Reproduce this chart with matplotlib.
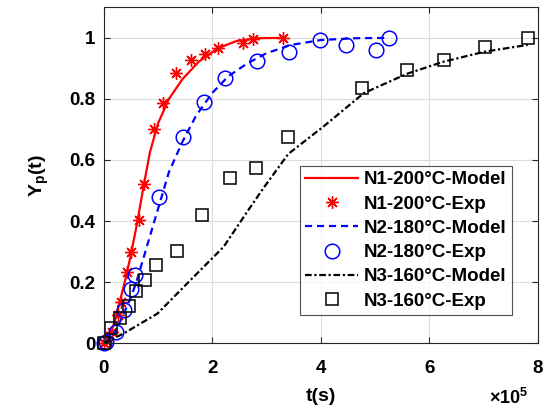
import matplotlib
matplotlib.use("Agg")
import matplotlib.pyplot as plt
from matplotlib.ticker import FuncFormatter

plt.rcParams['font.family'] = ['Liberation Sans', 'DejaVu Sans']
plt.rcParams['font.weight'] = 'bold'
plt.rcParams['mathtext.fontset'] = 'custom'
plt.rcParams['mathtext.rm'] = 'Liberation Sans:bold'
plt.rcParams['mathtext.it'] = 'Liberation Sans:bold'
plt.rcParams['mathtext.bf'] = 'Liberation Sans:bold'

# N1 - 200 C
n1_model_t = [0, 0.1e5, 0.2e5, 0.3e5, 0.4e5, 0.5e5, 0.6e5, 0.74e5, 0.85e5, 1.0e5, 1.2e5,
              1.45e5, 1.75e5, 2.1e5, 2.45e5, 2.85e5, 3.31e5]
n1_model_y = [0, 0.02, 0.07, 0.14, 0.21, 0.29, 0.38, 0.52, 0.625, 0.72, 0.80,
              0.865, 0.922, 0.966, 0.99, 0.999, 1.0]
n1_exp_t = [0, 0.04e5, 0.16e5, 0.27e5, 0.31e5, 0.42e5, 0.50e5, 0.64e5, 0.74e5, 0.92e5,
            1.10e5, 1.34e5, 1.60e5, 1.86e5, 2.11e5, 2.56e5, 2.75e5, 3.31e5]
n1_exp_y = [0, 0.01, 0.037, 0.092, 0.135, 0.232, 0.298, 0.405, 0.522, 0.70,
            0.786, 0.886, 0.928, 0.946, 0.968, 0.983, 0.996, 0.999]

# N2 - 180 C
n2_model_t = [0, 0.1e5, 0.2e5, 0.3e5, 0.4e5, 0.5e5, 0.6e5, 0.8e5, 1.0e5, 1.2e5, 1.45e5,
              1.7e5, 2.0e5, 2.3e5, 2.65e5, 3.0e5, 3.45e5, 4.0e5, 4.65e5, 5.25e5]
n2_model_y = [0, 0.01, 0.035, 0.07, 0.11, 0.15, 0.2, 0.32, 0.44, 0.56, 0.66,
              0.745, 0.82, 0.875, 0.917, 0.95, 0.977, 0.993, 0.999, 1.0]
n2_exp_t = [0, 0.05e5, 0.22e5, 0.38e5, 0.50e5, 0.57e5, 1.02e5, 1.46e5, 1.84e5, 2.24e5,
            2.83e5, 3.41e5, 3.98e5, 4.47e5, 5.02e5, 5.26e5]
n2_exp_y = [0, 0.005, 0.037, 0.108, 0.176, 0.224, 0.478, 0.676, 0.791, 0.87,
            0.925, 0.953, 0.993, 0.977, 0.96, 1.0]

# N3 - 160 C
n3_model_t = [0, 0.37e5, 0.99e5, 1.6e5, 2.21e5, 2.64e5, 2.95e5, 3.4e5, 4.05e5, 4.79e5,
              5.58e5, 6.26e5, 7.02e5, 7.81e5]
n3_model_y = [0, 0.032, 0.097, 0.207, 0.316, 0.43, 0.51, 0.62, 0.71, 0.819,
              0.882, 0.922, 0.955, 0.977]
n3_exp_t = [0, 0.13e5, 0.29e5, 0.47e5, 0.59e5, 0.76e5, 0.96e5, 1.35e5, 1.81e5, 2.32e5,
            2.81e5, 3.39e5, 4.76e5, 5.58e5, 6.26e5, 7.02e5, 7.81e5]
n3_exp_y = [0, 0.048, 0.084, 0.121, 0.17, 0.207, 0.255, 0.303, 0.42, 0.54,
            0.573, 0.674, 0.837, 0.895, 0.926, 0.969, 1.0]

fig = plt.figure(figsize=(5.49, 4.09), dpi=100)
ax = fig.add_axes([0.189, 0.161, 0.791, 0.821])

lw = 1.6
ax.plot(n1_model_t, n1_model_y, '-', color='red', lw=lw, label='N1-200°C-Model')
ax.plot(n1_exp_t, n1_exp_y, marker=(8, 2, 0), color='red', ms=9, mew=1, ls='none',
        label='N1-200°C-Exp', clip_on=False)
ax.plot(n2_model_t, n2_model_y, color='blue', lw=lw, ls=(0, (3.2, 2.2)),
        label='N2-180°C-Model')
ax.plot(n2_exp_t, n2_exp_y, 'o', mfc='none', mec='blue', ms=10.5, mew=1.1, ls='none',
        label='N2-180°C-Exp', clip_on=False)
ax.plot(n3_model_t, n3_model_y, color='black', lw=lw, ls=(0, (3, 1.2, 1, 1.2)),
        label='N3-160°C-Model')
ax.plot(n3_exp_t, n3_exp_y, 's', mfc='none', mec='black', ms=8, mew=1.1, ls='none',
        label='N3-160°C-Exp', clip_on=False)

ax.set_xlim(0, 8e5)
ax.set_ylim(0, 1.1)
ax.set_xticks([0, 2e5, 4e5, 6e5, 8e5])
ax.xaxis.set_major_formatter(FuncFormatter(lambda v, p: '%g' % (v / 1e5)))
ax.set_yticks([0, 0.2, 0.4, 0.6, 0.8, 1])
ax.set_yticklabels(['0', '0.2', '0.4', '0.6', '0.8', '1'])

ax.grid(True, color='#dcdcdc', lw=0.8)
ax.set_axisbelow(True)
ax.tick_params(direction='in', top=True, right=True, labelsize=13.5, length=4, width=0.8,
               color='#262626')
ax.tick_params(axis='x', pad=12)
ax.tick_params(axis='y', pad=6)
for s in ax.spines.values():
    s.set_color('#262626')
    s.set_linewidth(0.8)

ax.set_xlabel('t(s)', fontsize=14, fontweight='bold', labelpad=8)
ax.set_ylabel(r'$\mathrm{Y_p(t)}$', fontsize=14, labelpad=13)
fig.text(0.962, 0.003, r'$\mathrm{\times 10^5}$', fontsize=13, ha='right', va='bottom')

leg = ax.legend(loc='lower right', bbox_to_anchor=(0.94, 0.083), borderaxespad=0,
                fontsize=13.5, frameon=True, fancybox=False, edgecolor='#262626',
                handlelength=2.8, handletextpad=0.3, labelspacing=0.38,
                borderpad=0.3)
leg.get_frame().set_linewidth(0.8)

fig.savefig('out.png', dpi=100)
